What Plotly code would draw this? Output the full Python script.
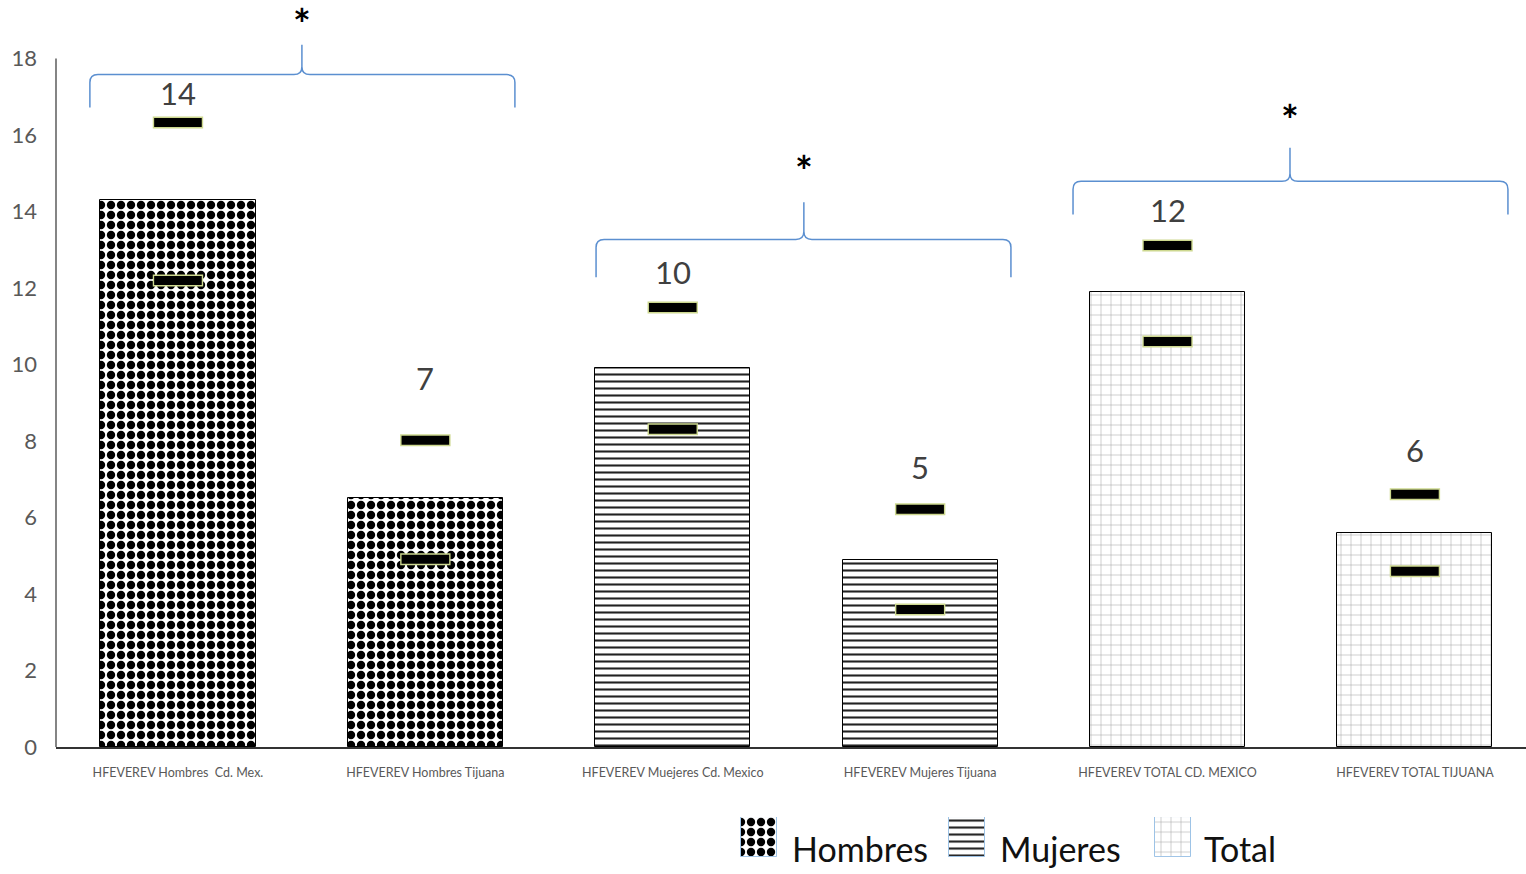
import plotly.graph_objects as go

# ---- data ----
categories = ["HFEVEREV Hombres  Cd. Mex.", "HFEVEREV Hombres Tijuana",
              "HFEVEREV Muejeres Cd. Mexico", "HFEVEREV Mujeres Tijuana",
              "HFEVEREV TOTAL CD. MEXICO", "HFEVEREV TOTAL TIJUANA"]
values = [14.3, 6.5, 9.9, 4.9, 11.9, 5.6]
err_upper = [16.33, 8.02, 11.49, 6.22, 13.11, 6.61]
err_lower = [12.2, 4.91, 8.31, 3.6, 10.6, 4.6]
value_labels = ["14", "7", "10", "5", "12", "6"]
label_y = [17.11, 9.64, 12.41, 7.31, 14.03, 7.76]
groups = ["Hombres", "Hombres", "Mujeres", "Mujeres", "Total", "Total"]
group_names = ["Hombres", "Mujeres", "Total"]
# significance braces: (left, right, centre, line level, end level, peak level, star level)
braces = [(-0.356, 1.362, 0.501, 17.58, 16.72, 18.36, 19.07),
          (1.69, 3.367, 2.53, 13.27, 12.28, 14.24, 15.23),
          (3.618, 5.376, 4.495, 14.79, 13.92, 15.67, 16.54)]
y_ticks = [0, 2, 4, 6, 8, 10, 12, 14, 16, 18]

# ---- styles ----
patterns = {
    "Hombres": dict(shape=".", fgcolor="black", bgcolor="white", size=10, solidity=0.55, fillmode="replace"),
    "Mujeres": dict(shape="-", fgcolor="#222222", bgcolor="white", size=7, solidity=0.3, fillmode="replace"),
    "Total": dict(shape="+", fgcolor="#a0a0a0", bgcolor="white", size=10, solidity=0.1, fillmode="replace"),
}
H = 874
S = 874 / 862          # vertical compensation
AX_BOTTOM = 748 * S    # pixel row of the x axis
PX_X = 247.4           # pixels per category
PX_Y = 38.3 * S        # pixels per unit
Y_TOP = AX_BOTTOM / PX_Y
FONT = "Lato"

fig = go.Figure()
xs = list(range(len(categories)))

for g in group_names:
    idx = [i for i in xs if groups[i] == g]
    fig.add_trace(go.Bar(
        x=[xs[i] for i in idx], y=[values[i] for i in idx], width=0.627,
        marker=dict(color="white", line=dict(color="black", width=1), pattern=patterns[g]),
        showlegend=False, hoverinfo="skip"))

# error dashes (outline then black core)
for y_arr in (err_upper, err_lower):
    fig.add_trace(go.Scatter(x=xs, y=y_arr, mode="markers", showlegend=False, hoverinfo="skip",
                             marker=dict(symbol="line-ew", size=36, color="#cdd88f",
                                         line=dict(color="#cdd88f", width=12))))
    fig.add_trace(go.Scatter(x=xs, y=y_arr, mode="markers", showlegend=False, hoverinfo="skip",
                             marker=dict(symbol="line-ew", size=34, color="black",
                                         line=dict(color="black", width=9))))

# value labels
for i in xs:
    fig.add_annotation(x=xs[i], y=label_y[i], text=value_labels[i], showarrow=False,
                       font=dict(family=FONT, size=31, color="#404040"), xanchor="center", yanchor="middle")

# braces and stars
rx = 8 / PX_X
ry = 8 / PX_Y
for (x0, x1, xc, yl, ye, yp, ys) in braces:
    path = (f"M {x0},{ye} L {x0},{yl - ry} Q {x0},{yl} {x0 + rx},{yl} "
            f"L {xc - rx},{yl} Q {xc},{yl} {xc},{yl + ry} L {xc},{yp} "
            f"M {xc},{yl + ry} Q {xc},{yl} {xc + rx},{yl} "
            f"L {x1 - rx},{yl} Q {x1},{yl} {x1},{yl - ry} L {x1},{ye}")
    fig.add_shape(type="path", path=path, xref="x", yref="y",
                  line=dict(color="#5b8fd0", width=1.5))
    fig.add_annotation(x=xc, y=ys, text="<b>*</b>", showarrow=False, yshift=-6,
                       font=dict(family=FONT, size=42, color="black"), xanchor="center", yanchor="middle")

# y-axis line up to 18
fig.add_shape(type="line", xref="paper", yref="y", x0=0, x1=0, y0=0, y1=max(y_ticks),
              line=dict(color="#333333", width=1.2))

# ---- custom legend (swatches in a pixel-scaled helper axis) ----
sw_x = [759, 967, 1173]
txt_x = [790, 998, 1202]
for k, g in enumerate(group_names):
    pat = dict(patterns[g])
    fig.add_trace(go.Bar(x=[sw_x[k]], y=[1], width=36, xaxis="x2", yaxis="y2",
                         marker=dict(color="white", line=dict(color="#9dc3e6", width=1), pattern=pat),
                         showlegend=False, hoverinfo="skip"))
    fig.add_annotation(x=txt_x[k], xref="x2", y=(H - 849 * S) / H, yref="paper", text=g,
                       showarrow=False, xanchor="left", yanchor="middle",
                       font=dict(family=FONT, size=34, color="#111111"))

fig.update_layout(
    width=1526, height=H, autosize=False,
    margin=dict(l=56, r=0, t=0, b=0),
    paper_bgcolor="white", plot_bgcolor="white",
    bargap=0, barmode="overlay",
    xaxis=dict(domain=[0, 1], range=[-0.493, 5.449], tickmode="array", tickvals=xs, ticktext=categories,
               showgrid=False, zeroline=False, showline=True, linecolor="#333333", linewidth=1.5,
               ticks="", ticklabelstandoff=13,
               tickfont=dict(family=FONT, size=12.5, color="#595959"), anchor="y"),
    yaxis=dict(domain=[(H - AX_BOTTOM) / H, 1], range=[0, Y_TOP], tickmode="array", tickvals=y_ticks,
               showgrid=False, zeroline=False, showline=False, ticks="", ticklabelstandoff=18,
               tickfont=dict(family=FONT, size=22, color="#595959"), anchor="x"),
    xaxis2=dict(domain=[0, 1], range=[56, 1526], visible=False, anchor="y2"),
    yaxis2=dict(domain=[(H - 858 * S) / H, (H - 818 * S) / H], range=[0, 1], visible=False, anchor="x2"),
)

fig.write_html("out.html")
